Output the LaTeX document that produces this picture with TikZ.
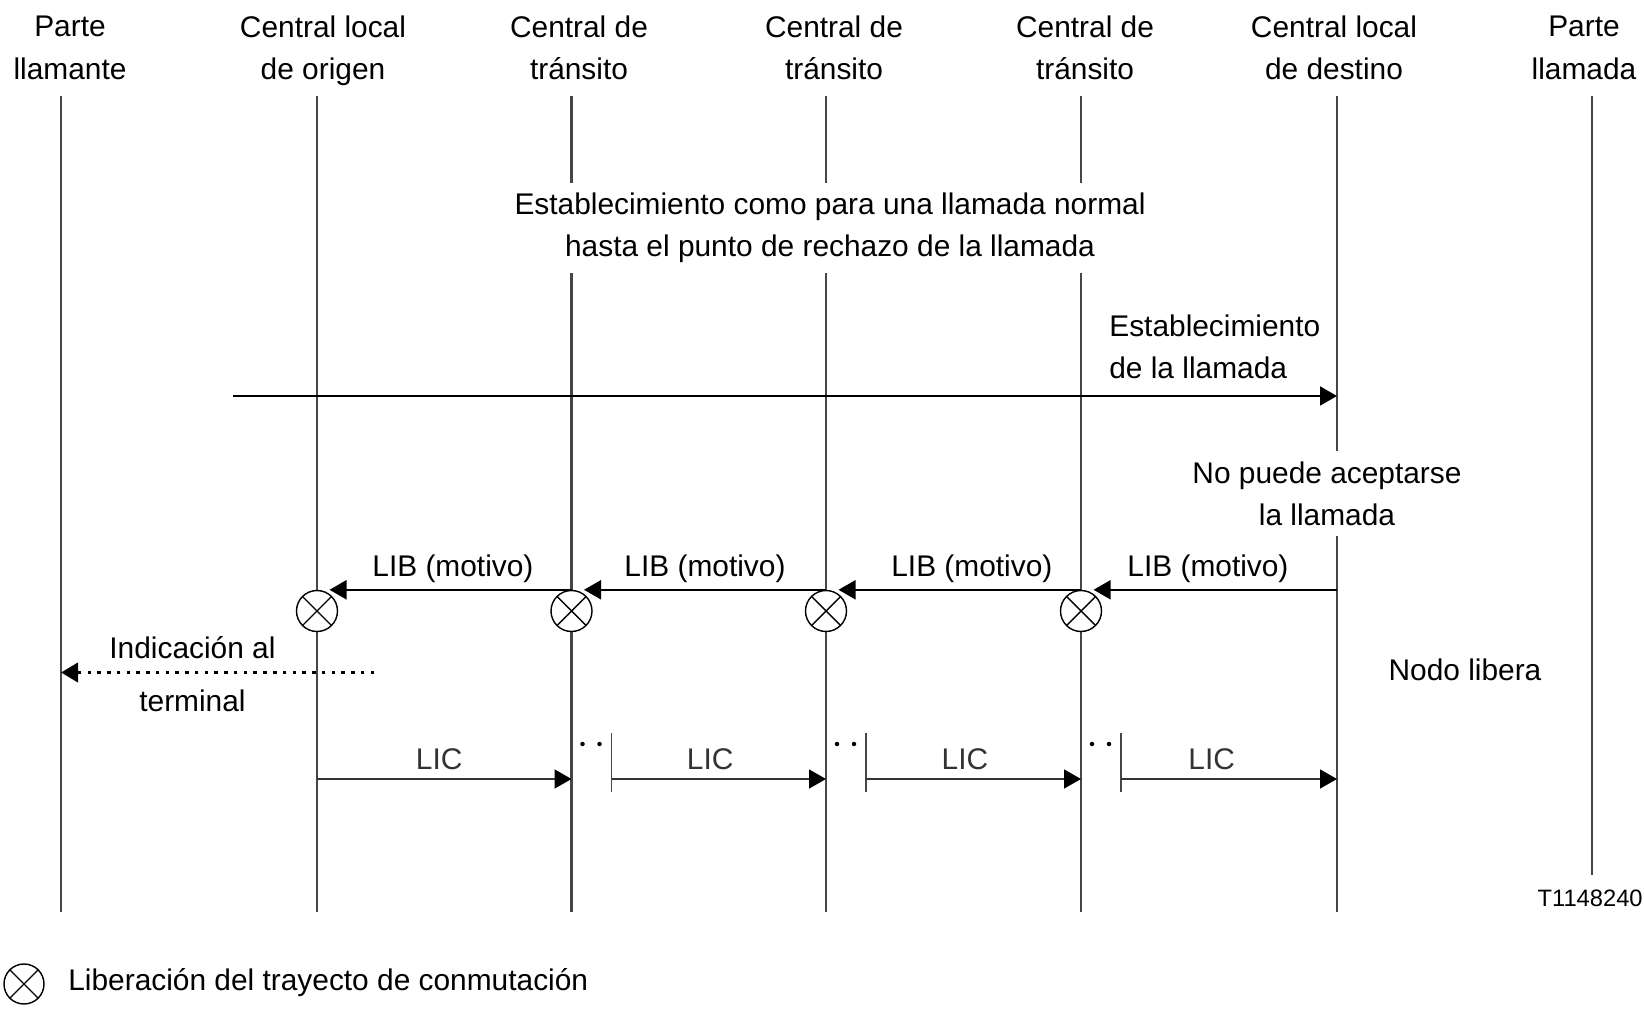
\documentclass[tikz,border=0pt]{standalone}
\usepackage{fontspec}
\setmainfont{Liberation Sans}
\usepackage{tikz}
\usetikzlibrary{calc}
\usetikzlibrary{arrows.meta}
\usetikzlibrary{positioning}
\usepackage{color}
\definecolor{linegray}{RGB}{70, 70, 70}

\tikzset{
  lbl/.style={font=\fontsize{17}{24}\selectfont, align=center, inner sep=0pt},
  head/.style={lbl, text depth=0.13cm},
  blank/.style={lbl, fill=white, inner xsep=0.1cm, inner ysep=0.2cm},
  msg/.style={lbl, above=0.24cm, text depth=0pt},
  life/.style={color=linegray, line width=1.2pt},
  msgarrow/.style={line width=1.1pt, -{Triangle[length=0.34cm, width=0.38cm]}},
  licarrow/.style={line width=0.8pt, color=black!80, -{Triangle[length=0.34cm, width=0.38cm, color=black]}},
  dotarrow/.style={line width=0.075cm, dash pattern=on 0.07cm off 0.125cm, -{Triangle[length=0.34cm, width=0.38cm]}},
  relcirc/.style={circle, draw, line width=0.8pt, fill=white, minimum size=0.82cm, inner sep=0pt,
    path picture={\draw[line width=0.8pt] (path picture bounding box.north west) -- (path picture bounding box.south east)
                                          (path picture bounding box.north east) -- (path picture bounding box.south west);}},
}

\begin{document}
\begin{tikzpicture}
            \useasboundingbox (0.00, 0.00) rectangle (32.88, 20.20);
            % Lifelines
            \foreach \i/\x/\y in {0/1.22/1.96, 1/6.34/1.96, 2/11.43/1.96, 3/16.52/1.96, 4/21.62/1.96, 5/26.74/1.96, 6/31.84/2.70} {
                \coordinate (t\i) at (\x, 18.28);
                \coordinate (b\i) at (\x, \y);
                \draw[life] (t\i) -- (b\i);
            }
            % Headers
            \node[head] (h0) at ( 1.40, 19.18) {Parte\\llamante};
            \node[head] (h1) at ( 6.46, 19.18) {Central local\\de origen};
            \node[head] (h2) at (11.58, 19.18) {Central de\\tránsito};
            \node[head] (h3) at (16.68, 19.18) {Central de\\tránsito};
            \node[head] (h4) at (21.70, 19.18) {Central de\\tránsito};
            \node[head] (h5) at (26.68, 19.18) {Central local\\de destino};
            \node[head] (h6) at (31.68, 19.18) {Parte\\llamada};
            % Call set-up
            \node[blank] (normal) at (16.60, 15.64) {Establecimiento como para una llamada normal\\hasta el punto de rechazo de la llamada};
            \coordinate (setupstart) at (4.66, 12.28);
            \draw[msgarrow] (setupstart) -- (setupstart -| t5);
            \node[lbl, align=left, anchor=west] (setup) at (22.18, 13.27) {Establecimiento\\de la llamada};
            \node[blank] (refused) at (26.54, 10.33) {No puede aceptarse\\la llamada};
            % Release of the switching path
            \foreach \i in {1,...,4}
                \node[relcirc] (c\i) at ($(t\i)+(0,-10.30)$) {};
            \draw[msgarrow] (c4.north -| t5) -- ($(c4.north)+(0.25,0)$) node[msg, pos=0.53] {LIB (motivo)};
            \draw[msgarrow] (c4.north)       -- ($(c3.north)+(0.25,0)$) node[msg, pos=0.45] {LIB (motivo)};
            \draw[msgarrow] (c3.north)       -- ($(c2.north)+(0.25,0)$) node[msg, midway]   {LIB (motivo)};
            \draw[msgarrow] (c2.north)       -- ($(c1.north)+(0.25,0)$) node[msg, pos=0.49] {LIB (motivo)};
            \coordinate (indstart) at (7.48, 6.75);
            \draw[dotarrow] (indstart) -- (indstart -| t0)
                 node[lbl, pos=0.58, yshift=-0.03cm] {Indicación al\\[0.22cm]terminal};
            \node[lbl] (release) at (29.30, 6.80) {Nodo libera};
            % Release complete
            \coordinate (licY) at (0, 4.62);
            \foreach \i in {2,3,4} {
                \coordinate (k\i) at ($(t\i |- licY)+(0.80,0)$);
                \draw[life, line width=0.9pt] ($(k\i)+(0,0.92)$) -- ($(k\i)+(0,-0.26)$);
                \fill ($(t\i |- licY)+(0.22,0.70)$) circle (0.045);
                \fill ($(t\i |- licY)+(0.56,0.70)$) circle (0.045);
            }
            \draw[licarrow] (t1 |- licY) -- (t2 |- licY) node[msg, above=0.18cm, pos=0.48] {LIC};
            \draw[licarrow] (k2)         -- (t3 |- licY) node[msg, above=0.18cm, pos=0.46] {LIC};
            \draw[licarrow] (k3)         -- (t4 |- licY) node[msg, above=0.18cm, pos=0.46] {LIC};
            \draw[licarrow] (k4)         -- (t5 |- licY) node[msg, above=0.18cm, pos=0.42] {LIC};
            % Figure number and key
            \node[lbl, font=\fontsize{13.5}{16}\selectfont, anchor=east] (figno) at (32.86, 2.24) {T1148240};
            \node[relcirc, minimum size=0.80cm] (key) at (0.48, 0.52) {};
            \node[lbl, anchor=west] (keytext) at (1.36, 0.55) {Liberación del trayecto de conmutación};
\end{tikzpicture}
\end{document}
